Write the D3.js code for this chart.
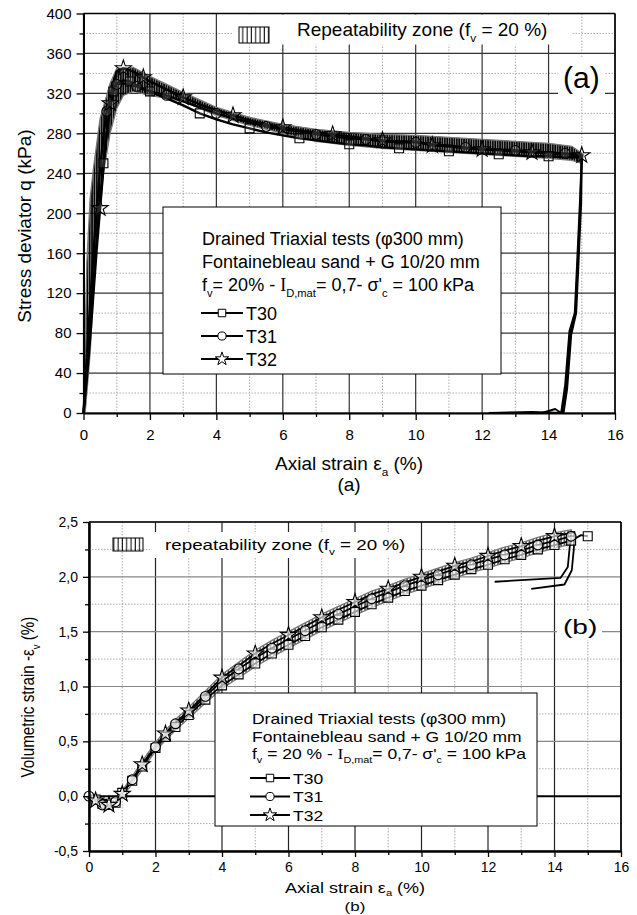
<!DOCTYPE html>
<html lang="en">
<head>
<meta charset="UTF-8">
<title>Drained triaxial tests T30 - T32</title>
<script src="https://cdnjs.cloudflare.com/ajax/libs/d3/7.8.5/d3.min.js"></script>
<style>
  body { margin: 0; background: #fff; }
  svg text { font-family: "Liberation Sans", Arial, sans-serif; fill: #000; }
</style>
</head>
<body>
<div id="chart"></div>
<script>
// ---------- (a) stress deviator q (kPa) vs axial strain (%) ----------
const strainA = [0, 0.1, 0.2, 0.3, 0.4, 0.5, 0.6, 0.7, 0.8, 0.9, 1.0,
  1.2, 1.4, 1.6, 1.8, 2.0, 2.5, 3.0, 3.5, 4.0, 4.5, 5.0, 5.5, 6.0, 6.5, 7.0,
  7.5, 8.0, 8.5, 9.0, 9.5, 10.0, 10.5, 11.0, 11.5, 12.0, 12.5, 13.0, 13.5, 14.0, 14.5, 15.0];
const qT30 = [0, 40, 85, 130, 175, 215, 250, 280, 305, 322, 330,
  333, 332, 328, 325, 322, 315, 308, 300, 294, 289, 285, 281, 278, 275, 273,
  271, 269, 268, 266, 265, 264, 263, 262, 261, 260, 259, 258, 257, 257, 256, 256];
const qT31 = [0, 55, 110, 160, 205, 245, 278, 302, 318, 326, 329,
  330, 329, 327, 324, 322, 318, 312, 306, 300, 295, 291, 287, 284, 282, 279,
  277, 275, 274, 272, 271, 271, 269, 268, 266, 265, 264, 263, 262, 261, 260, 259];
const qT32 = [0, 35, 75, 120, 165, 205, 245, 280, 310, 330, 342,
  345, 343, 340, 336, 332, 324, 316, 309, 303, 298, 293, 289, 286, 283, 281,
  279, 277, 275, 273, 272, 272, 268, 267, 265, 264, 263, 262, 261, 260, 259, 258];

// unloading branches
const unloadStrainT30 = [15.0, 14.96, 14.88, 14.81, 14.65, 14.53, 14.4, 13.5, 12.2];
const unloadQT30 = [256, 213, 150, 100, 80, 26, 0, 1, 0];
const unloadStrainT31 = [15.0, 14.98, 14.9, 14.83, 14.68, 14.56, 14.45];
const unloadQT31 = [259, 210, 150, 100, 78, 25, 0];
const unloadStrainT32 = [15.0, 14.95, 14.86, 14.79, 14.63, 14.5, 14.38, 14.2, 13.8];
const unloadQT32 = [258, 215, 150, 100, 82, 28, 0, 4, 0];

// repeatability zone (a): upper and lower envelopes
const zoneAUpperStrain = [0, 0.1, 0.2, 0.3, 0.5, 0.8, 1.0, 1.5, 2, 3, 4, 5, 6, 7, 8, 9, 10, 11, 12, 13, 14, 14.7, 15.05];
const zoneAUpperQ = [0, 150, 215, 245, 295, 330, 345, 346, 337, 321, 306, 296, 289, 284, 281, 279, 278, 276, 274, 272, 270, 267, 259];
const zoneALowerStrain = [0.05, 0.2, 0.35, 0.5, 0.6, 0.8, 1.0, 1.2, 1.5, 2, 3, 4, 5, 6, 7, 8, 9, 10, 11, 12, 13, 14, 14.7, 15.0];
const zoneALowerQ = [0, 60, 150, 205, 240, 280, 305, 318, 322, 318, 312, 298, 288, 280, 272, 268, 265, 263, 261, 259, 257, 255, 253, 250];

// ---------- (b) volumetric strain -ev (%) vs axial strain (%) ----------
const strainB = [0, 0.2, 0.4, 0.6, 0.8, 1.0, 1.3, 1.6, 2.0, 2.3, 2.6, 3.0, 3.5, 4.0, 4.5,
  5.0, 5.5, 6.0, 6.5, 7.0, 7.5, 8.0, 8.5, 9.0, 9.5, 10.0, 10.5, 11.0, 11.5, 12.0,
  12.5, 13.0, 13.5, 14.0, 14.5];
const evT30 = [0, -0.03, -0.07, -0.08, -0.06, 0.03, 0.14, 0.27, 0.44, 0.54, 0.63, 0.74, 0.88, 1.01, 1.11,
  1.21, 1.30, 1.38, 1.46, 1.54, 1.61, 1.68, 1.75, 1.81, 1.87, 1.92, 1.97, 2.02, 2.07, 2.11,
  2.16, 2.20, 2.25, 2.29, 2.33];
const evT31 = [0, -0.04, -0.08, -0.09, -0.05, 0.02, 0.15, 0.28, 0.45, 0.56, 0.66, 0.76, 0.91, 1.05, 1.16,
  1.26, 1.35, 1.43, 1.51, 1.59, 1.66, 1.73, 1.80, 1.86, 1.92, 1.97, 2.02, 2.07, 2.11, 2.16,
  2.20, 2.24, 2.29, 2.33, 2.37];
const evT32 = [0, -0.04, -0.07, -0.08, -0.05, 0.02, 0.15, 0.29, 0.46, 0.57, 0.67, 0.78, 0.93, 1.08, 1.19,
  1.30, 1.39, 1.47, 1.55, 1.63, 1.70, 1.77, 1.84, 1.89, 1.95, 2.00, 2.05, 2.10, 2.14, 2.19,
  2.24, 2.28, 2.33, 2.37, 2.40];

// end of T30 and unloading tails of T31 / T32
const endStrainT30 = [14.5, 14.8, 15.0];
const endEvT30 = [2.33, 2.38, 2.37];
const tailStrainT31 = [14.5, 14.45, 14.4, 14.18, 13.0, 12.2];
const tailEvT31 = [2.38, 2.25, 2.09, 1.99, 1.97, 1.955];
const tailStrainT32 = [14.5, 14.6, 14.58, 14.52, 14.3, 13.3];
const tailEvT32 = [2.40, 2.41, 2.25, 2.06, 1.93, 1.89];

// repeatability zone (b)
const zoneBUpper = [0.01, -0.02, -0.05, -0.06, -0.03, 0.05, 0.18, 0.32, 0.49, 0.60, 0.70, 0.81, 0.96, 1.11, 1.22,
  1.33, 1.42, 1.50, 1.58, 1.66, 1.73, 1.80, 1.87, 1.92, 1.98, 2.03, 2.08, 2.13, 2.17, 2.22,
  2.27, 2.31, 2.36, 2.40, 2.43];
const zoneBLower = [-0.02, -0.06, -0.09, -0.10, -0.08, 0.0, 0.11, 0.24, 0.41, 0.51, 0.60, 0.71, 0.85, 0.98, 1.08,
  1.18, 1.27, 1.35, 1.43, 1.51, 1.58, 1.65, 1.72, 1.78, 1.84, 1.89, 1.94, 1.99, 2.04, 2.08,
  2.13, 2.17, 2.22, 2.26, 2.30];

// axis ticks
const xMajor = [0, 2, 4, 6, 8, 10, 12, 14, 16];
const xMinor = [1, 3, 5, 7, 9, 11, 13, 15];
const yMajorA = [0, 40, 80, 120, 160, 200, 240, 280, 320, 360, 400];
const yMinorA = [20, 60, 100, 140, 180, 220, 260, 300, 340, 380];
const yMajorB = [-0.5, 0, 0.5, 1.0, 1.5, 2.0, 2.5];
const yMinorB = [-0.25, 0.25, 0.75, 1.25, 1.75, 2.25];

const tests = ["T30", "T31", "T32"];
const shapes = [d3.symbolSquare, d3.symbolCircle, d3.symbolStar];
const shapeSize = [80, 75, 80];

// ---------- svg ----------
const svg = d3.select("#chart").append("svg").attr("width", 637).attr("height", 915);

const defs = svg.append("defs");
defs.append("pattern").attr("id", "hatch").attr("patternUnits", "userSpaceOnUse")
  .attr("width", 2.4).attr("height", 10)
  .append("line").attr("x1", 1).attr("x2", 1).attr("y1", 0).attr("y2", 10)
  .attr("stroke", "#000").attr("stroke-width", 1.9);
defs.append("pattern").attr("id", "hatchB").attr("patternUnits", "userSpaceOnUse")
  .attr("width", 3.5).attr("height", 10)
  .append("line").attr("x1", 1).attr("x2", 1).attr("y1", 0).attr("y2", 10)
  .attr("stroke", "#000").attr("stroke-width", 1.1);
defs.append("pattern").attr("id", "hatchKey").attr("patternUnits", "userSpaceOnUse")
  .attr("width", 4.3).attr("height", 10)
  .append("line").attr("x1", 2).attr("x2", 2).attr("y1", 0).attr("y2", 10)
  .attr("stroke", "#000").attr("stroke-width", 1);

// text with sub-scripts; parts are strings or {t, sub, serif}
function richText(parent, x, y, parts, size, opt = {}) {
  const k = opt.squish || 1;
  const tr = opt.rotate
    ? `translate(${x},${y}) rotate(-90) scale(${k},1)`
    : `translate(${x},${y}) scale(1,${k})`;
  const t = parent.append("text").attr("transform", tr)
    .attr("text-anchor", opt.anchor || "start")
    .style("font-size", size + "px");
  let shift = 0;
  parts.forEach(p => {
    if (typeof p === "string") p = { t: p };
    const want = p.sub ? size * (opt.subShift || 0.32) : 0;
    const ts = t.append("tspan").text(p.t).attr("dy", want - shift);
    if (p.sub) ts.style("font-size", (size * 0.62) + "px");
    if (p.serif) ts.style("font-family", "'Liberation Serif', serif");
    shift = want;
  });
  return t;
}

// scales + grid of one panel
function makePanel(box, yDomain, yMajor, yMinor, gridStyle) {
  const x = d3.scaleLinear().domain([0, 16]).range([box.left, box.right]);
  const y = d3.scaleLinear().domain(yDomain).range([box.bottom, box.top]);
  const g = svg.append("g");

  g.selectAll(null).data(xMinor).join("line")
    .attr("x1", d => x(d)).attr("x2", d => x(d)).attr("y1", box.top).attr("y2", box.bottom)
    .attr("stroke", "#999").attr("stroke-width", 0.8).attr("stroke-dasharray", "1.5,1.5");
  g.selectAll(null).data(yMinor).join("line")
    .attr("x1", box.left).attr("x2", box.right).attr("y1", d => y(d)).attr("y2", d => y(d))
    .attr("stroke", "#999").attr("stroke-width", 0.8).attr("stroke-dasharray", "1.5,1.5");
  g.selectAll(null).data(xMajor).join("line")
    .attr("x1", d => x(d)).attr("x2", d => x(d)).attr("y1", box.top).attr("y2", box.bottom)
    .attr("stroke", gridStyle.v).attr("stroke-width", 1.2);
  g.selectAll(null).data(yMajor).join("line")
    .attr("x1", box.left).attr("x2", box.right).attr("y1", d => y(d)).attr("y2", d => y(d))
    .attr("stroke", d => d === 0 && gridStyle.zero ? gridStyle.zero : gridStyle.h)
    .attr("stroke-width", d => d === 0 && gridStyle.zero ? 2 : 1.2);
  return { x, y, g, box };
}

// axes and frame, drawn last
function drawAxes(p, yMajor, yMinor, fmt, o) {
  const { x, y, g, box } = p;
  g.append("line").attr("x1", box.left).attr("x2", box.right).attr("y1", box.top).attr("y2", box.top)
    .attr("stroke", "#000").attr("stroke-width", 1.5);
  g.append("line").attr("x1", box.right).attr("x2", box.right).attr("y1", box.top).attr("y2", box.bottom)
    .attr("stroke", "#000").attr("stroke-width", 1.5);

  const xa = g.append("g").attr("transform", `translate(0,${box.bottom})`)
    .call(d3.axisBottom(x).tickValues(xMajor).tickSize(o.tick).tickSizeOuter(0)
      .tickPadding(o.xPad).tickFormat(d3.format("d")));
  g.append("g").attr("transform", `translate(0,${box.bottom})`)
    .call(d3.axisBottom(x).tickValues(xMinor).tickSize(4).tickFormat(""))
    .select(".domain").remove();
  const ya = g.append("g").attr("transform", `translate(${box.left},0)`)
    .call(d3.axisLeft(y).tickValues(yMajor).tickSize(o.tick).tickSizeOuter(0)
      .tickPadding(o.yPad).tickFormat(fmt));
  g.append("g").attr("transform", `translate(${box.left},0)`)
    .call(d3.axisLeft(y).tickValues(yMinor).tickSize(4).tickFormat(""))
    .select(".domain").remove();

  [xa, ya].forEach(a => {
    a.select(".domain").attr("stroke", "#000").attr("stroke-width", o.axisW);
    a.selectAll("text").style("font-size", o.font + "px")
      .style("font-family", "'Liberation Sans', Arial, sans-serif").attr("fill", "#000");
  });
  g.selectAll(".tick line").attr("stroke", "#000").attr("stroke-width", 1.3);
}

const line = (x, y) => d3.line().x(d => x(d[0])).y(d => y(d[1]));

function drawZone(p, upper, lower, fill) {
  const pts = upper.concat(lower.slice().reverse());
  p.g.append("path").attr("d", line(p.x, p.y)(pts) + "Z")
    .attr("fill", fill).attr("stroke", "#777").attr("stroke-width", 1.3);
}

function drawCurve(p, pts, w) {
  p.g.append("path").attr("d", line(p.x, p.y)(pts))
    .attr("fill", "none").attr("stroke", "#000").attr("stroke-width", w)
    .attr("stroke-linejoin", "round");
}

function drawMarkers(p, pts, k, op) {
  p.g.selectAll(null).data(pts).join("path")
    .attr("transform", d => `translate(${p.x(d[0])},${p.y(d[1])})`)
    .attr("d", d3.symbol().type(shapes[k]).size(shapeSize[k]))
    .attr("fill", "#fff").attr("fill-opacity", op)
    .attr("stroke", "#000").attr("stroke-width", 1.1);
}

// ================= panel (a) =================
const pA = makePanel({ left: 83.5, right: 615, top: 13.5, bottom: 413 }, [0, 400],
  yMajorA, yMinorA, { v: "#333", h: "#333" });

drawZone(pA, d3.zip(zoneAUpperStrain, zoneAUpperQ), d3.zip(zoneALowerStrain, zoneALowerQ), "url(#hatch)");

const loadA = [qT30, qT31, qT32].map(q => d3.zip(strainA, q));
const unloadA = [
  d3.zip(unloadStrainT30, unloadQT30),
  d3.zip(unloadStrainT31, unloadQT31),
  d3.zip(unloadStrainT32, unloadQT32)
];
loadA.forEach((pts, k) => { drawCurve(pA, pts, 2.4); drawCurve(pA, unloadA[k], 2); });
loadA.forEach((pts, k) => drawMarkers(pA, pts.filter((d, i) => d[0] >= 0.5 && i % 3 === k), k, 0.15));

// key of the repeatability zone
pA.g.append("rect").attr("x", 233).attr("y", 14.5).attr("width", 339).attr("height", 30).attr("fill", "#fff");
pA.g.append("rect").attr("x", 239).attr("y", 27).attr("width", 30).attr("height", 16)
  .attr("fill", "url(#hatchKey)").attr("stroke", "#000").attr("stroke-width", 1);
richText(pA.g, 297, 36, ["Repeatability zone (f", { t: "v", sub: true }, " = 20 %)"], 19);

// panel tag
pA.g.append("rect").attr("x", 558).attr("y", 58).attr("width", 47).attr("height", 38).attr("fill", "#fff");
richText(pA.g, 563, 88, ["(a)"], 30);

// legend box (a)
const legA = pA.g.append("g");
legA.append("rect").attr("x", 163).attr("y", 207).attr("width", 338).attr("height", 167)
  .attr("fill", "#fff").attr("stroke", "#000").attr("stroke-width", 1);
richText(legA, 202, 245, ["Drained Triaxial tests  (\u03c6300 mm)"], 18);
richText(legA, 202, 268, ["Fontainebleau sand + G 10/20 mm"], 18);
richText(legA, 202, 291, ["f", { t: "v", sub: true }, "= 20% - ", { t: "I", serif: true },
  { t: "D,mat", sub: true }, "= 0,7- \u03c3'", { t: "c", sub: true }, " = 100 kPa"], 18);
tests.forEach((name, k) => {
  const cy = 313 + k * 23;
  legA.append("line").attr("x1", 201).attr("x2", 243).attr("y1", cy).attr("y2", cy)
    .attr("stroke", "#000").attr("stroke-width", 2.2);
  legA.append("path").attr("transform", `translate(222,${cy})`)
    .attr("d", d3.symbol().type(shapes[k]).size(shapeSize[k] * 0.7))
    .attr("fill", "#fff").attr("stroke", "#000").attr("stroke-width", 1);
  richText(legA, 246, cy + 6.5, [name], 18);
});

drawAxes(pA, yMajorA, yMinorA, d3.format("d"), { tick: 7, xPad: 9, yPad: 5, font: 15, axisW: 2 });

richText(svg, 349, 470, ["Axial strain \u03b5", { t: "a", sub: true }, " (%)"], 19, { anchor: "middle" });
richText(svg, 349, 491, ["(a)"], 19, { anchor: "middle" });
richText(svg, 31, 226, ["Stress deviator q (kPa)"], 19, { anchor: "middle", rotate: true });

// ================= panel (b) =================
const commaFmt = d3.formatLocale({ decimal: ",", thousands: ".", grouping: [3], currency: ["", ""], minus: "-" }).format(".1f");

const pB = makePanel({ left: 89, right: 621, top: 522, bottom: 851 }, [-0.5, 2.5],
  yMajorB, yMinorB, { v: "#222", h: "#888", zero: "#000" });

drawZone(pB, d3.zip(strainB, zoneBUpper), d3.zip(strainB, zoneBLower), "url(#hatchB)");

// legend box (b) sits under the curves
const legB = pB.g.append("g");
legB.append("rect").attr("x", 215).attr("y", 693).attr("width", 322).attr("height", 133)
  .attr("fill", "#fff").attr("stroke", "#000").attr("stroke-width", 1);

const loadB = [evT30, evT31, evT32].map(v => d3.zip(strainB, v));
drawCurve(pB, loadB[0].concat(d3.zip(endStrainT30, endEvT30).slice(1)), 1.8);
drawCurve(pB, loadB[1], 1.8);
drawCurve(pB, loadB[2], 1.8);
drawCurve(pB, d3.zip(tailStrainT31, tailEvT31), 1.8);
drawCurve(pB, d3.zip(tailStrainT32, tailEvT32), 1.8);
drawMarkers(pB, loadB[0].concat(d3.zip(endStrainT30, endEvT30).slice(2)).filter(d => d[0] > 0), 0, 0.6);
drawMarkers(pB, loadB[1].filter((d, i) => i % 2 === 0), 1, 0.6);
drawMarkers(pB, loadB[2].filter((d, i) => i % 2 === 1), 2, 0.6);

// key of the repeatability zone
pB.g.append("rect").attr("x", 150).attr("y", 532).attr("width", 268).attr("height", 26).attr("fill", "#fff");
pB.g.append("rect").attr("x", 113).attr("y", 538).attr("width", 30).attr("height", 13)
  .attr("fill", "url(#hatchKey)").attr("stroke", "#000").attr("stroke-width", 1);
richText(pB.g, 165, 550, ["repeatability zone (f", { t: "v", sub: true }, " = 20 %)"], 18.8, { squish: 0.8 });

pB.g.append("rect").attr("x", 557).attr("y", 612).attr("width", 45).attr("height", 28).attr("fill", "#fff");
richText(pB.g, 563, 634, ["(b)"], 28, { squish: 0.75 });

richText(legB, 252, 724, ["Drained Triaxial tests  (\u03c6300 mm)"], 17.5, { squish: 0.8 });
richText(legB, 252, 742, ["Fontainebleau sand + G 10/20 mm"], 17.5, { squish: 0.8 });
richText(legB, 252, 759, ["f", { t: "v", sub: true }, " = 20 % - ", { t: "I", serif: true },
  { t: "D,mat", sub: true }, "= 0,7- \u03c3'", { t: "c", sub: true }, " = 100 kPa"], 17.5, { squish: 0.8 });
tests.forEach((name, k) => {
  const cy = 778 + k * 18.5;
  legB.append("line").attr("x1", 250).attr("x2", 290).attr("y1", cy).attr("y2", cy)
    .attr("stroke", "#000").attr("stroke-width", 2);
  legB.append("path").attr("transform", `translate(270,${cy})`)
    .attr("d", d3.symbol().type(shapes[k]).size(shapeSize[k] * 0.7))
    .attr("fill", "#fff").attr("stroke", "#000").attr("stroke-width", 1);
  richText(legB, 293, cy + 5.5, [name], 17.5, { squish: 0.8 });
});

drawAxes(pB, yMajorB, yMinorB, commaFmt, { tick: 6, xPad: 5, yPad: 5, font: 14, axisW: 2.5 });

richText(svg, 355, 893, ["Axial strain \u03b5", { t: "a", sub: true }, " (%)"], 18, { anchor: "middle", squish: 0.78, subShift: 0.22 });
richText(svg, 355, 911, ["(b)"], 17, { anchor: "middle", squish: 0.78 });
richText(svg, 34, 697, ["Volumetric strain -\u03b5", { t: "v", sub: true }, " (%)"], 19, { anchor: "middle", rotate: true, squish: 0.8 });
</script>
</body>
</html>
